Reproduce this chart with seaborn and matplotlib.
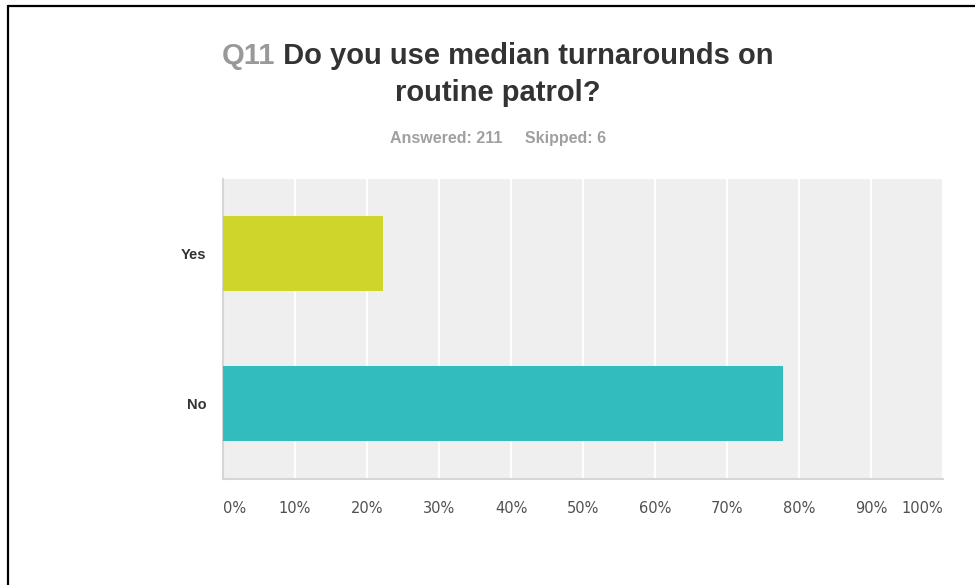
import numpy as np
import pandas as pd
import matplotlib
matplotlib.use("Agg")
import matplotlib.pyplot as plt
from matplotlib.lines import Line2D
import seaborn as sns

# ---------------------------------------------------------------------------
# Data (Answered: 211 -> 47 yes / 164 no)
# ---------------------------------------------------------------------------
answers = ["Yes", "No"]
percents = [22.27, 77.73]
bar_colors = ["#CFD52A", "#33BCBD"]
x_ticks = [0, 10, 20, 30, 40, 50, 60, 70, 80, 90, 100]
x_tick_labels = [f"{t}%" for t in x_ticks]

TITLE_NUM = "Q11"
TITLE_LINE1 = " Do you use median turnarounds on"
TITLE_LINE2 = "routine patrol?"
SUBTITLE = "Answered: 211     Skipped: 6"

PLOT_BG = "#EFEFEF"
AXIS_COLOR = "#D6D6D6"
DARK = "#333333"
GRAY = "#999999"

sns.set_theme(style="white")
plt.rcParams["font.family"] = ["Liberation Sans", "DejaVu Sans"]

fig = plt.figure(figsize=(9.75, 5.85), dpi=100)
fig.patch.set_facecolor("white")
ax = fig.add_axes([223 / 975, 1 - 478.5 / 585, 720 / 975, 300 / 585])
ax.set_facecolor(PLOT_BG)

df = pd.DataFrame({"answer": answers, "pct": percents})
sns.barplot(data=df, y="answer", x="pct", hue="answer", palette=bar_colors,
            orient="h", width=0.5, legend=False, ax=ax, zorder=3,
            saturation=1, linewidth=0)

ax.set_xlim(0, 100)
ax.set_ylim(1.5, -0.5)
ax.set_xticks(x_ticks)
ax.set_xticklabels(x_tick_labels, fontsize=10.5, color="#505050",
                   family="DejaVu Sans")
ax.tick_params(axis="x", length=0, pad=16)
ax.tick_params(axis="y", length=0, pad=12)
for lab in ax.get_yticklabels():
    lab.set_fontsize(10.5)
    lab.set_fontweight("bold")
    lab.set_color(DARK)
xl = ax.get_xticklabels()
xl[0].set_ha("left")
xl[-1].set_ha("right")

ax.grid(axis="x", color="white", linewidth=1.5, zorder=1)
ax.grid(axis="y", visible=False)
ax.set_axisbelow(True)
ax.set_xlabel("")
ax.set_ylabel("")
for side in ["top", "right"]:
    ax.spines[side].set_visible(False)
for side in ["left", "bottom"]:
    ax.spines[side].set_color(AXIS_COLOR)
    ax.spines[side].set_linewidth(1.5)

# ---------------------------------------------------------------------------
# Title: "Q11" in gray followed by the question in dark text
# ---------------------------------------------------------------------------
cx = 498 / 975
y1 = 1 - 56 / 585
renderer = fig.canvas.get_renderer()
t_num = fig.text(0, y1, TITLE_NUM, fontsize=21, fontweight="bold", color=GRAY,
                 va="center", ha="left")
t_rest = fig.text(0, y1, TITLE_LINE1, fontsize=21, fontweight="bold",
                  color=DARK, va="center", ha="left")
w_num = t_num.get_window_extent(renderer).width / fig.bbox.width
w_rest = t_rest.get_window_extent(renderer).width / fig.bbox.width
x0 = cx - (w_num + w_rest) / 2
t_num.set_x(x0)
t_rest.set_x(x0 + w_num)

fig.text(cx, 1 - 93 / 585, TITLE_LINE2, fontsize=21, fontweight="bold",
         color=DARK, va="center", ha="center")
fig.text(cx, 1 - 138 / 585, SUBTITLE, fontsize=11.5, fontweight="bold",
         color="#A0A0A0", va="center", ha="center")

# frame lines (top and left) from the screenshot
fig.add_artist(Line2D([7.5 / 975, 7.5 / 975], [0, 1 - 5.5 / 585],
                      color="black", linewidth=1.6))
fig.add_artist(Line2D([7.5 / 975, 1], [1 - 5.5 / 585, 1 - 5.5 / 585],
                      color="black", linewidth=1.6))

fig.savefig("out.png", dpi=100, facecolor=fig.get_facecolor())
